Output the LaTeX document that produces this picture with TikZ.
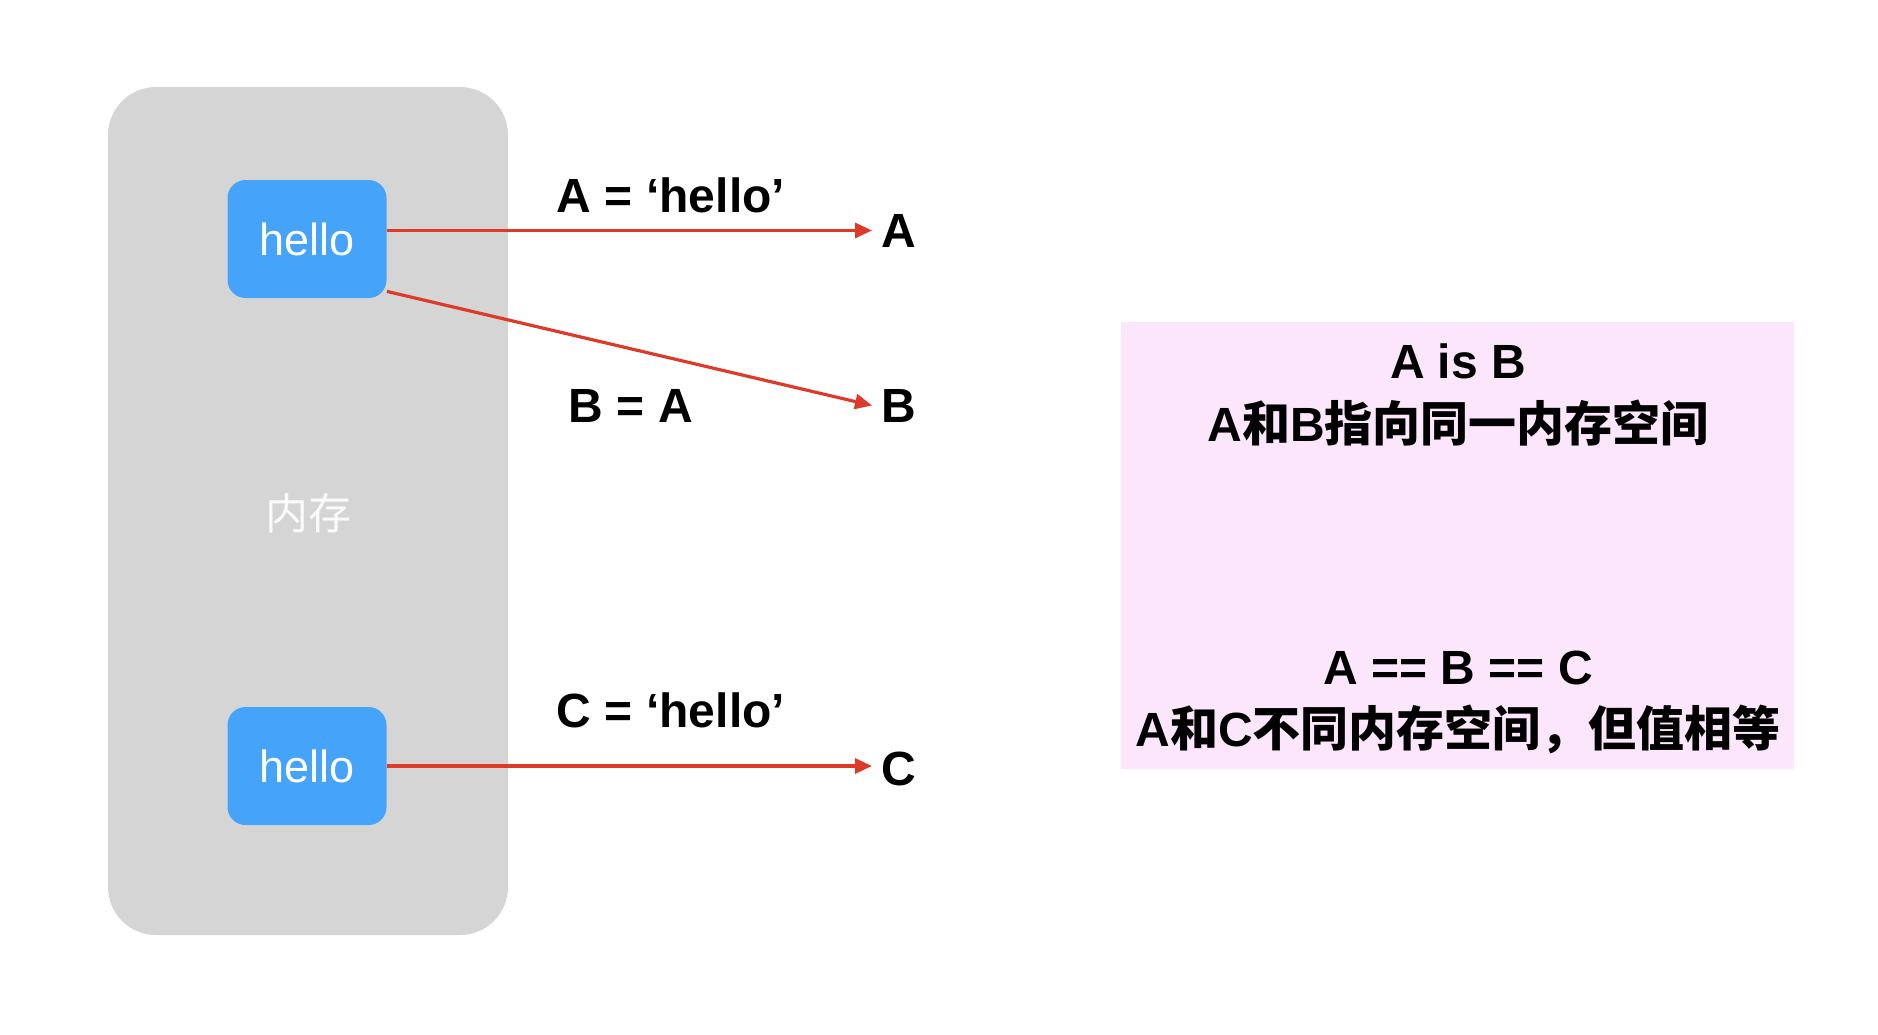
\documentclass[tikz,border=0pt]{standalone}
\usepackage{fontspec}
\setmainfont{Liberation Sans}
\newfontfamily\cjk{Noto Sans CJK SC}
\usetikzlibrary{positioning, arrows.meta}
\definecolor{memGrey}{HTML}{D5D5D5}
\definecolor{cellBlue}{HTML}{45A4F9}
\definecolor{refRed}{HTML}{DC3B2A}
\definecolor{notePink}{HTML}{FCE6FC}
\definecolor{memText}{HTML}{FAFAFA}
\newcommand{\zhtext}[1]{{\cjk #1}}

\begin{document}
\begin{tikzpicture}[x=0.5pt, y=-0.5pt,
    cell/.style={fill=cellBlue, rounded corners=9pt, minimum width=79.5pt,
      minimum height=59pt, inner sep=0pt, text=white,
      font=\fontsize{22.5}{26}\selectfont},
    code/.style={anchor=base, inner sep=0pt, font=\bfseries\fontsize{24}{28}\selectfont},
    var/.style={anchor=base west, inner sep=4.5pt, font=\bfseries\fontsize{24}{28}\selectfont},
    note/.style={anchor=base, inner sep=0pt, font=\bfseries\fontsize{24}{28}\selectfont},
    ref/.style={draw=refRed, line width=1.6pt, -{Triangle[length=8.5pt, width=7.5pt]}}]
    \useasboundingbox (0,0) rectangle (1878,1034);

    % memory block
    \fill[memGrey, rounded corners=24pt] (108,87) rectangle (508,935);
    \node[text=memText, font=\cjk\fontsize{21.5}{24}\selectfont] (mem) at (308,513) {内存};
    \node[cell] (hello1) at (307,239) {hello};
    \node[cell] (hello2) at (307,766) {hello};

    % variables
    \node[var] (varA) at (872,247) {A};
    \node[var] (varB) at (872,422) {B};
    \node[var] (varC) at (872,785) {C};

    \node[code] (assignA) at (671,212) {A = ‘hello’};
    \node[code] (assignB) at (631,422) {B = A};
    \node[code] (assignC) at (671,727) {C = ‘hello’};

    \draw[ref] (hello1.east |- varA.west) -- (varA.west);
    \draw[ref] ([yshift=3.5pt]hello1.south east) -- (varB.west);
    \draw[ref] (hello2.east) -- (hello2.east -| varC.west);

    % comparison note
    \fill[notePink] (1121,322) rectangle (1794,769);
    \node[note] (isLine) at (1458,378) {A is B};
    \node[note] (isText) at (1458,441) {A\zhtext{和}B\zhtext{指向同一内存空间}};
    \node[note] (eqLine) at (1458,684) {A == B == C};
    \node[note] (eqText) at (1458,746) {A\zhtext{和}C\zhtext{不同内存空间，但值相等}};
  \end{tikzpicture}
\end{document}
